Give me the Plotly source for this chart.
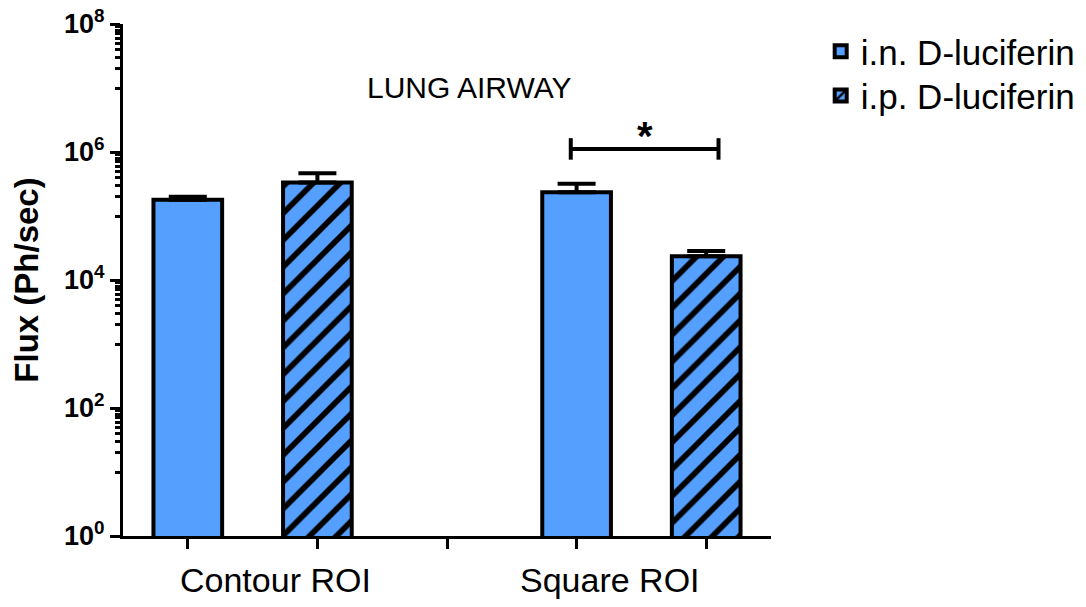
import plotly.graph_objects as go

# ---- data ----
groups = ["Contour ROI", "Square ROI"]
series_names = ["i.n. D-luciferin", "i.p. D-luciferin"]
in_mean = [1.8e5, 2.35e5]
in_err = [2.0e4, 8.5e4]
ip_mean = [3.35e5, 2.35e4]
ip_err = [1.3e5, 5.0e3]
y_major = [1, 1e2, 1e4, 1e6, 1e8]
y_major_text = ["10<sup>0</sup>", "10<sup>2</sup>", "10<sup>4</sup>", "10<sup>6</sup>", "10<sup>8</sup>"]
chart_title = "LUNG AIRWAY"
y_title = "Flux (Ph/sec)"
sig_label = "*"

BLUE = "#559FFF"
FONT = "Arial, Liberation Sans, sans-serif"

# positions: each group occupies two slots, with one empty slot between groups
x_in = [3 * i for i in range(len(groups))]
x_ip = [3 * i + 1 for i in range(len(groups))]

minor_vals = [k * 10 ** (2 * m + 1) for m in range(4) for k in range(1, 10)]

fig = go.Figure()
fig.add_trace(go.Bar(
    x=x_in, y=in_mean, name=series_names[0], width=0.53, legend="legend",
    marker=dict(color=BLUE, line=dict(color="black", width=4)),
    error_y=dict(type="data", symmetric=False, array=in_err, arrayminus=[0] * len(in_err),
                 color="black", thickness=4, width=19),
))
fig.add_trace(go.Bar(
    x=x_ip, y=ip_mean, name=series_names[1], width=0.53, legend="legend2",
    marker=dict(color=BLUE, line=dict(color="black", width=4),
                pattern=dict(shape="/", fgcolor="#000000", bgcolor=BLUE, fgopacity=1,
                             size=19, solidity=0.3)),
    error_y=dict(type="data", symmetric=False, array=ip_err, arrayminus=[0] * len(ip_err),
                 color="black", thickness=4, width=19),
))

legend_common = dict(xref="container", yref="container", xanchor="left", yanchor="top",
                     font=dict(size=35, family=FONT), bgcolor="rgba(0,0,0,0)")

fig.update_layout(
    width=1086, height=607,
    margin=dict(l=123, r=315, t=24, b=71),
    plot_bgcolor="white", paper_bgcolor="white",
    font=dict(family=FONT, color="black"),
    barmode="overlay",
    showlegend=True,
    legend=dict(x=0.7557, y=0.9638, **legend_common),
    legend2=dict(x=0.7557, y=0.891, **legend_common),
    xaxis=dict(range=[-0.5, 4.5], tickvals=[0, 1, 2, 3, 4], ticktext=[""] * 5,
               ticks="outside", ticklen=10, tickwidth=3, tickcolor="black", automargin=False,
               showline=True, linewidth=3, linecolor="black", showgrid=False, zeroline=False),
    yaxis=dict(type="log", range=[0, 8], tickvals=y_major,
               ticktext=["<b>" + t + "</b>" for t in y_major_text],
               tickfont=dict(size=27, family=FONT), automargin=False,
               ticks="outside", ticklen=10, tickwidth=3, tickcolor="black",
               showline=True, linewidth=3, linecolor="black", showgrid=False, zeroline=False,
               minor=dict(tickvals=minor_vals, ticks="outside", ticklen=5, tickwidth=3,
                          tickcolor="black", showgrid=False),
               title=dict(text="<b>" + y_title + "</b>", font=dict(size=33, family=FONT), standoff=16)),
)

# group labels
label_x = [0.68, 3.26]
for gx, g in zip(label_x, groups):
    fig.add_annotation(x=gx, y=-0.045, xref="x", yref="paper", text=g, showarrow=False,
                       yanchor="top", font=dict(size=34, family=FONT))

fig.add_annotation(x=2.17, y=0.876, xref="x", yref="paper", text=chart_title, showarrow=False,
                   yanchor="middle", font=dict(size=30, family=FONT))

# significance bracket between the Square ROI bars
bx0, bx1 = x_in[1] - 0.045, x_ip[1] + 0.095
fig.add_shape(type="line", x0=bx0, x1=bx1, y0=0.756, y1=0.756, xref="x", yref="y domain",
              line=dict(color="black", width=4))
for bx in (bx0, bx1):
    fig.add_shape(type="line", x0=bx, x1=bx, y0=0.735, y1=0.777, xref="x", yref="y domain",
                  line=dict(color="black", width=4))
fig.add_annotation(x=(bx0 + bx1) / 2, y=0.782, xref="x", yref="y domain", text="<b>" + sig_label + "</b>",
                   showarrow=False, yanchor="middle", font=dict(size=40, family=FONT))

fig.write_html("out.html")
